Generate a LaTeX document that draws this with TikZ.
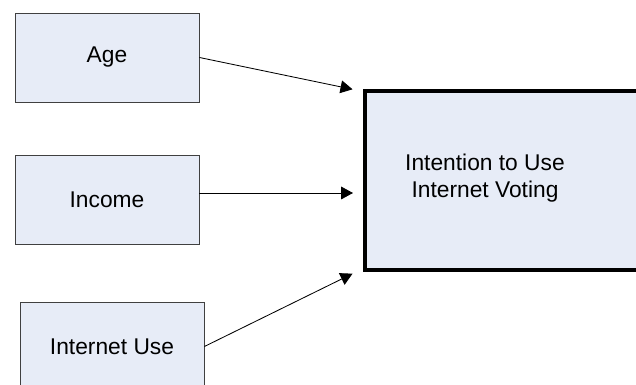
\documentclass[tikz,border=0pt]{standalone}
\usepackage{fontspec}
\setmainfont{Liberation Sans}
\usetikzlibrary{arrows.meta}
\definecolor{boxfill}{RGB}{231,236,247}

\begin{document}
\begin{tikzpicture}[
    factor/.style = {draw=black!75, line width=0.6pt, fill=boxfill, minimum width=4.6cm, minimum height=2.225cm, font=\fontsize{16.2}{19.2}\selectfont},
    goal/.style = {draw, line width=2.4pt, fill=boxfill, minimum width=7.2cm, minimum height=4.475cm},
    link/.style = {-{Triangle[length=0.3cm, width=0.32cm]}, line width=0.6pt}]

        \useasboundingbox (0,0) rectangle (15.9,9.625);
        \clip (0,0) rectangle (15.9,9.625);

        \node[factor] (age) at (2.675,8.1875) {Age};
        \node[factor] (income) at (2.675,4.6375) {Income};
        \node[factor] (use) at (2.8,0.9625) {Internet Use};
        \node[goal, label={[xshift=-0.6cm, yshift=0.06cm, align=center, font=\fontsize{16.2}{19.2}\selectfont]center:{Intention to Use\\Internet Voting}}] (intent) at (12.725,5.1125) {};

        \coordinate (tipA) at ([xshift=-0.27cm]intent.north west);
        \coordinate (tipB) at (8.825,4.8);
        \coordinate (tipC) at ([xshift=-0.27cm, yshift=-0.05cm]intent.south west);

        \draw[link] (age.east) -- (tipA);
        \draw[link] (income.east |- tipB) -- (tipB);
        \draw[link] (use.east) -- (tipC);

\end{tikzpicture}
\end{document}
